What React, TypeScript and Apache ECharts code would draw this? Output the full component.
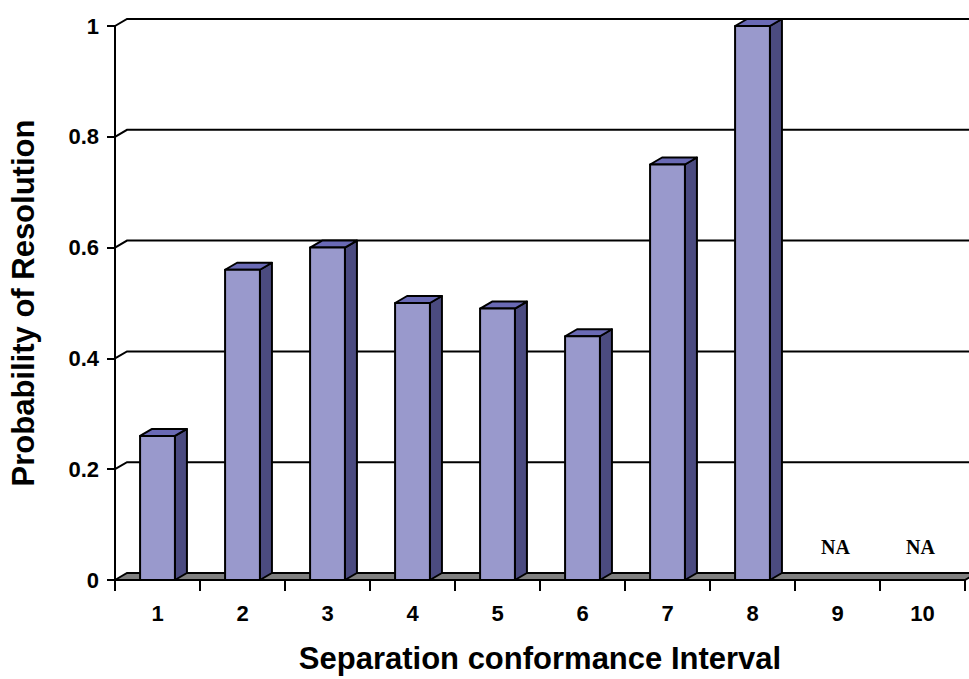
import React, { useEffect, useRef } from "react";
import * as echarts from "echarts";

const categories = ["1", "2", "3", "4", "5", "6", "7", "8", "9", "10"];
const probabilities: (number | null)[] = [0.26, 0.56, 0.6, 0.5, 0.49, 0.44, 0.75, 1, null, null];
const gridTicks = [0.2, 0.4, 0.6, 0.8, 1];
const missingLabel = "NA";

const DX = 12;
const DY = -7;
const FRONT = "#9999cc";
const TOP = "#6a6ab5";
const SIDE = "#4b4b80";
const FLOOR = "#808080";
const FONT = "'Liberation Sans', Arial, Helvetica, sans-serif";

export default function App() {
  const ref = useRef<HTMLDivElement>(null);
  useEffect(() => {
    if (!ref.current) return;
    const chart = echarts.init(ref.current, undefined, { renderer: "svg" });
    const option: any = {
      animation: false,
      backgroundColor: "#ffffff",
      grid: { left: 115, right: 4, top: 26, bottom: 99 },
      xAxis: {
        type: "category",
        data: categories,
        boundaryGap: true,
        name: "Separation conformance Interval",
        nameLocation: "middle",
        nameGap: 63,
        nameTextStyle: { fontFamily: FONT, fontWeight: "bold", fontSize: 31, color: "#000" },
        axisLine: { show: true, lineStyle: { color: "#000", width: 2 } },
        axisTick: { show: true, length: 11, alignWithLabel: false, lineStyle: { color: "#000", width: 2 } },
        axisLabel: { fontFamily: FONT, fontWeight: "bold", fontSize: 22, color: "#000", margin: 22 },
        splitLine: { show: false },
        z: 10,
      },
      yAxis: {
        type: "value",
        min: 0,
        max: 1,
        interval: 0.2,
        name: "Probability of Resolution",
        nameLocation: "middle",
        nameGap: 76,
        nameRotate: 90,
        nameTextStyle: { fontFamily: FONT, fontWeight: "bold", fontSize: 31, color: "#000" },
        axisLine: { show: true, lineStyle: { color: "#000", width: 2 } },
        axisTick: { show: true, length: 8, lineStyle: { color: "#000", width: 2 } },
        axisLabel: {
          fontFamily: FONT,
          fontWeight: "bold",
          fontSize: 22,
          color: "#000",
          margin: 16,
          formatter: (v: number) => String(Math.round(v * 10) / 10),
        },
        splitLine: { show: false },
        z: 10,
      },
      series: [
        {
          type: "custom",
          name: "gridlines",
          z: 1,
          silent: true,
          data: gridTicks.map((t) => [0, t]),
          renderItem: (params: any, api: any) => {
            const cs = params.coordSys;
            const p = api.coord([0, api.value(1)]);
            const y = p[1];
            return {
              type: "polyline",
              shape: {
                points: [
                  [cs.x, y],
                  [cs.x + DX, y + DY],
                  [cs.x + cs.width + DX, y + DY],
                ],
              },
              style: { stroke: "#000", lineWidth: 2, fill: "none" },
            };
          },
        },
        {
          type: "custom",
          name: "floor",
          z: 2,
          silent: true,
          data: [[0, 0]],
          renderItem: (params: any, api: any) => {
            const cs = params.coordSys;
            const y = api.coord([0, 0])[1];
            return {
              type: "polygon",
              shape: {
                points: [
                  [cs.x, y],
                  [cs.x + DX, y + DY],
                  [cs.x + cs.width + DX, y + DY],
                  [cs.x + cs.width, y],
                ],
              },
              style: { fill: FLOOR, stroke: "#000", lineWidth: 2 },
            };
          },
        },
        {
          type: "custom",
          name: "Probability of Resolution",
          z: 3,
          data: probabilities.map((v, i) => [i, v === null ? 0 : v, v === null ? 1 : 0]),
          renderItem: (params: any, api: any) => {
            const i = api.value(0);
            const v = api.value(1);
            const missing = api.value(2) === 1;
            const top = api.coord([i, v]);
            const base = api.coord([i, 0]);
            const band = api.size([1, 0])[0];
            if (missing) {
              return {
                type: "text",
                style: {
                  text: missingLabel,
                  x: base[0] - 2,
                  y: base[1] - 33,
                  align: "center",
                  verticalAlign: "middle",
                  fontFamily: "'Liberation Serif', 'Times New Roman', serif",
                  fontWeight: "bold",
                  fontSize: 20,
                  fill: "#000",
                },
              };
            }
            const w = band * 0.41;
            const xl = top[0] - w / 2;
            const xr = top[0] + w / 2;
            const yt = top[1];
            const yb = base[1];
            const stroke = { stroke: "#000", lineWidth: 2, lineJoin: "round" };
            return {
              type: "group",
              children: [
                {
                  type: "polygon",
                  shape: { points: [[xr, yt], [xr + DX, yt + DY], [xr + DX, yb + DY], [xr, yb]] },
                  style: { fill: SIDE, ...stroke },
                },
                {
                  type: "polygon",
                  shape: { points: [[xl, yt], [xl + DX, yt + DY], [xr + DX, yt + DY], [xr, yt]] },
                  style: { fill: TOP, ...stroke },
                },
                {
                  type: "rect",
                  shape: { x: xl, y: yt, width: w, height: yb - yt },
                  style: { fill: FRONT, ...stroke },
                },
              ],
            };
          },
        },
      ],
    };
    chart.setOption(option);
    return () => chart.dispose();
  }, []);
  return <div ref={ref} style={{ width: 969, height: 679, position: "absolute", left: 0, top: 0 }} />;
}
